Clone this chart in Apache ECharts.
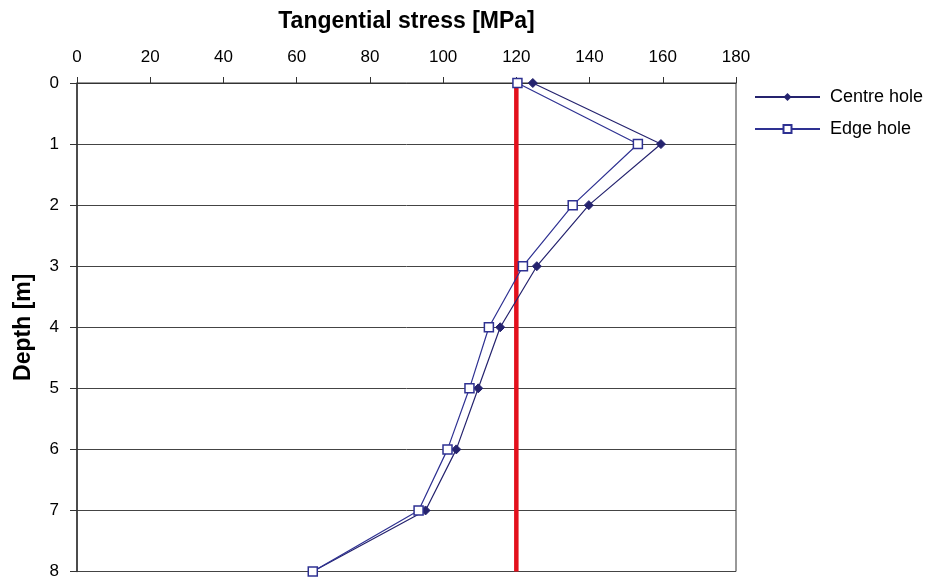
<!DOCTYPE html>
<html>
<head>
<meta charset="utf-8">
<script src="https://cdn.jsdelivr.net/npm/echarts@6/dist/echarts.min.js"></script>
<style>
  html, body { margin: 0; padding: 0; background: #fff; }
  #chart { width: 925px; height: 580px; }
</style>
</head>
<body>
<div id="chart"></div>
<script>
// Depth profile of tangential stress around the holes
const depths = [0, 1, 2, 3, 4, 5, 6, 7, 8];
const centreHole = [124.5, 159.5, 139.8, 125.6, 115.6, 109.6, 103.6, 95.2, 64.4];
const edgeHole = [120.3, 153.2, 135.4, 121.8, 112.5, 107.2, 101.2, 93.3, 64.4];
const referenceStress = 120;
const stressTicks = [0, 20, 40, 60, 80, 100, 120, 140, 160, 180];

const pairs = (vals) => vals.map((v, i) => [v, depths[i]]);
const font = 'Liberation Sans, Arial, sans-serif';

const chart = echarts.init(document.getElementById('chart'));
chart.setOption({
  animation: false,
  backgroundColor: '#fff',
  grid: { left: 77, top: 83, right: 189, bottom: 7, show: true, borderColor: '#333', borderWidth: 1 },
  xAxis: {
    type: 'value', position: 'top',
    min: stressTicks[0], max: stressTicks[stressTicks.length - 1], interval: stressTicks[1] - stressTicks[0],
    name: 'Tangential stress [MPa]', nameLocation: 'middle', nameGap: 50,
    nameTextStyle: { fontFamily: font, fontWeight: 'bold', fontSize: 23, color: '#000' },
    axisLine: { show: true, lineStyle: { color: '#333', width: 1 } },
    axisTick: { show: true, length: 6, lineStyle: { color: '#333' } },
    axisLabel: { fontFamily: font, fontSize: 17, color: '#000', margin: 17 },
    splitLine: { show: false }
  },
  yAxis: {
    type: 'value', inverse: true, min: 0, max: 8, interval: 1,
    name: 'Depth [m]', nameLocation: 'middle', nameGap: 42, nameRotate: 90,
    nameTextStyle: { fontFamily: font, fontWeight: 'bold', fontSize: 23, color: '#000' },
    axisLine: { show: true, lineStyle: { color: '#333', width: 1.5 } },
    axisTick: { show: true, length: 7, lineStyle: { color: '#333' } },
    axisLabel: { fontFamily: font, fontSize: 17, color: '#000', margin: 18 },
    splitLine: { show: true, lineStyle: { color: '#444', width: 1 } }
  },
  legend: {
    orient: 'vertical', left: 749, top: 83, itemGap: 14,
    itemWidth: 65, itemHeight: 10,
    textStyle: { fontFamily: font, fontSize: 18, color: '#000', padding: [0, 0, 0, 5] },
    data: ['Centre hole', 'Edge hole']
  },
  series: [
    {
      name: 'Reference', type: 'line', data: [[referenceStress, 0], [referenceStress, 8]],
      symbol: 'none', lineStyle: { color: '#e3101c', width: 4.5 }, z: 1, silent: true
    },
    {
      name: 'Centre hole', type: 'line', data: pairs(centreHole),
      symbol: 'diamond', symbolSize: 9,
      lineStyle: { color: '#25236e', width: 1.2 },
      itemStyle: { color: '#25236e', borderColor: '#25236e' }, z: 3
    },
    {
      name: 'Edge hole', type: 'line', data: pairs(edgeHole),
      symbol: 'rect', symbolSize: 9,
      lineStyle: { color: '#2e3192', width: 1.2 },
      itemStyle: { color: '#fff', borderColor: '#2e3192', borderWidth: 1.5 }, z: 4
    }
  ]
});
</script>
</body>
</html>
